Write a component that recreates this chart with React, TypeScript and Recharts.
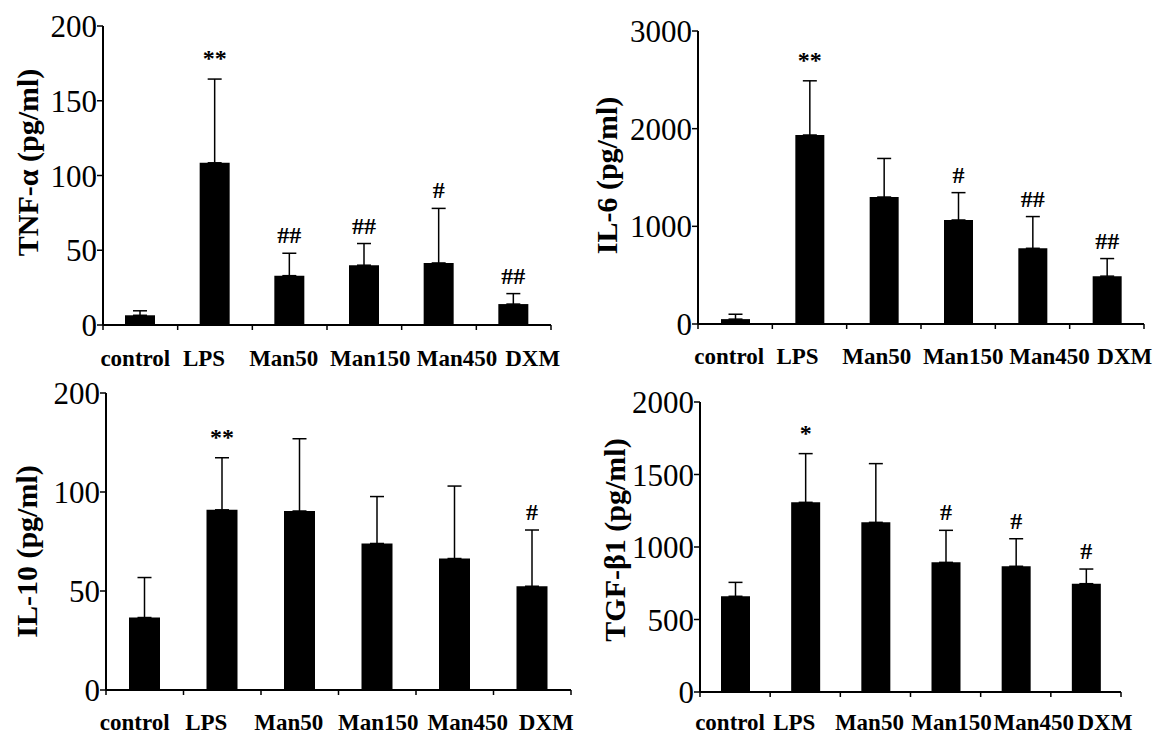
import React from "react";
import { BarChart, Bar, XAxis, YAxis, ErrorBar, LabelList } from "recharts";

const groups = ["control", "LPS", "Man50", "Man150", "Man450", "DXM"];

const tnfMean = [6.5, 108.5, 33, 40, 41.5, 14];
const tnfErr = [3, 56, 15, 14.5, 36.5, 7];
const tnfSig = ["", "**", "##", "##", "#", "##"];
const tnfTicks = [0, 50, 100, 150, 200];

const il6Mean = [50, 1935, 1300, 1065, 775, 490];
const il6Err = [50, 555, 395, 280, 325, 180];
const il6Sig = ["", "**", "", "#", "##", "##"];
const il6Ticks = [0, 1000, 2000, 3000];

const il10Mean = [36.6, 91, 90.4, 74, 66.4, 52.4];
const il10Err = [20.2, 26.3, 36.5, 23.7, 36.6, 28.4];
const il10Sig = ["", "**", "", "", "", "#"];
const il10Ticks = [0, 50, 100, 150];
// the original figure labels its top tick "200"
const il10TickLabels = ["0", "50", "100", "200"];

const tgfMean = [660, 1308, 1170, 894, 867, 747];
const tgfErr = [96, 336, 405, 221, 190, 101];
const tgfSig = ["", "*", "", "#", "#", "#"];
const tgfTicks = [0, 500, 1000, 1500, 2000];

const FONT = "'Liberation Serif', 'Times New Roman', serif";
const X_AXIS_H = 44;
// group names in the original were typed as one line, so they drift off the band centres
const nameNudge = [-7, -13, -8, 4, 16, 17];

const XTick = (props: any) => {
  const { x, y, payload, band, textDy, shift } = props;
  const idx = payload?.index ?? props.index ?? 0;
  const tx = x + shift + nameNudge[idx];
  return (
    <g>
      <line x1={x - band / 2} x2={x - band / 2} y1={y} y2={y + 5} stroke="#000" strokeWidth={1.5} />
      {idx === groups.length - 1 && (
        <line x1={x + band / 2} x2={x + band / 2} y1={y} y2={y + 5} stroke="#000" strokeWidth={1.5} />
      )}
      <text x={tx} y={y + textDy} textAnchor="middle" fontFamily={FONT} fontWeight="bold" fontSize={23} fill="#000">
        {payload.value}
      </text>
    </g>
  );
};

const SigLabel = (props: any) => {
  const { index, value, means, errs } = props;
  if (!value) return null;
  const vb = props.viewBox || props;
  const top = Math.min(vb.y, vb.y + vb.height);
  const pxPerUnit = Math.abs(vb.height) / means[index];
  const errTop = top - errs[index] * pxPerUnit;
  const gap = String(value).includes("*") ? 13 : 10;
  return (
    <text x={vb.x + vb.width / 2} y={errTop - gap} textAnchor="middle" fontFamily={FONT} fontWeight="bold" fontSize={24} fill="#000">
      {value}
    </text>
  );
};

function Panel(props: any) {
  const {
    left, top, W, H, yWidth, mTop, mRight, mBottom, title, labelX, labelDy,
    means, errs, sigs, ticks, tickLabels, barSize, textDy, shift = 0,
  } = props;
  const data = groups.map((g, i) => ({ name: g, mean: means[i], err: [0, errs[i]], sig: sigs[i] }));
  const plotW = W - yWidth - mRight;
  const band = plotW / groups.length;
  const plotBottom = H - mBottom - X_AXIS_H;
  const fmt = (v: number) => {
    const i = ticks.indexOf(v);
    return tickLabels ? tickLabels[i] : String(v);
  };
  const yLabel = (p: any) => {
    const vb = p?.viewBox;
    const cy = (vb && vb.height ? vb.y + vb.height / 2 : (mTop + plotBottom) / 2) + labelDy;
    return (
      <text
        x={labelX}
        y={cy}
        transform={`rotate(-90, ${labelX}, ${cy})`}
        textAnchor="middle"
        dominantBaseline="central"
        fontFamily={FONT}
        fontWeight="bold"
        fontSize={30}
        fill="#000"
      >
        {title}
      </text>
    );
  };
  return (
    <div style={{ position: "absolute", left, top, width: W, height: H }}>
      <BarChart width={W} height={H} data={data} margin={{ top: mTop, right: mRight, bottom: mBottom, left: 0 }}>
        <XAxis
          dataKey="name"
          height={X_AXIS_H}
          interval={0}
          tickSize={0}
          tickMargin={0}
          tickLine={false}
          axisLine={{ stroke: "#000", strokeWidth: 2 }}
          tick={(p: any) => <XTick {...p} band={band} textDy={textDy} shift={shift} />}
        />
        <YAxis
          width={yWidth}
          domain={[0, ticks[ticks.length - 1]]}
          ticks={ticks}
          interval={0}
          tickFormatter={fmt}
          tickSize={6}
          tickMargin={0}
          axisLine={{ stroke: "#000", strokeWidth: 2 }}
          tickLine={{ stroke: "#000", strokeWidth: 1.5 }}
          tick={{ fontFamily: FONT, fontSize: 31, fill: "#000" }}
          label={yLabel}
        />
        <Bar dataKey="mean" fill="#000" barSize={barSize} isAnimationActive={false}>
          <ErrorBar dataKey="err" direction="y" width={7} stroke="#000" strokeWidth={1.5} />
          <LabelList dataKey="sig" content={(p: any) => <SigLabel {...p} means={means} errs={errs} />} />
        </Bar>
      </BarChart>
    </div>
  );
}

export default function App() {
  return (
    <div style={{ position: "absolute", left: 0, top: 0, width: 1157, height: 734, background: "#fff", overflow: "hidden" }}>
      <Panel
        left={0} top={0} W={578} H={380} yWidth={103} mTop={26} mRight={27} mBottom={11}
        title="TNF-α (pg/ml)" labelX={27} labelDy={-13}
        means={tnfMean} errs={tnfErr} sigs={tnfSig} ticks={tnfTicks}
        barSize={30} textDy={41} shift={2}
      />
      <Panel
        left={578} top={0} W={579} H={380} yWidth={120} mTop={31} mRight={13} mBottom={12}
        title="IL-6 (pg/ml)" labelX={28} labelDy={-2}
        means={il6Mean} errs={il6Err} sigs={il6Sig} ticks={il6Ticks}
        barSize={29} textDy={40} shift={1}
      />
      <Panel
        left={0} top={367} W={578} H={367} yWidth={106} mTop={26} mRight={7} mBottom={0}
        title="IL-10 (pg/ml)" labelX={26} labelDy={10}
        means={il10Mean} errs={il10Err} sigs={il10Sig} ticks={il10Ticks} tickLabels={il10TickLabels}
        barSize={31} textDy={40} shift={-3}
      />
      <Panel
        left={578} top={367} W={579} H={367} yWidth={122} mTop={35} mRight={36} mBottom={-2}
        title="TGF-β1 (pg/ml)" labelX={36} labelDy={-7}
        means={tgfMean} errs={tgfErr} sigs={tgfSig} ticks={tgfTicks}
        barSize={29} textDy={38} shift={2}
      />
    </div>
  );
}
